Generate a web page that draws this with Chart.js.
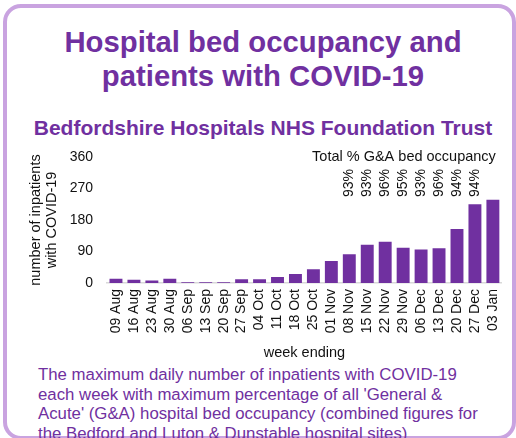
<!DOCTYPE html>
<html><head><meta charset="utf-8">
<script src="https://cdn.jsdelivr.net/npm/chart.js@4"></script>
<style>
html,body{margin:0;padding:0;width:516px;height:438px;overflow:hidden;background:#fff;font-family:'Liberation Sans',Arial,sans-serif;}
#frame{position:absolute;left:3px;top:4px;width:513px;height:436px;box-sizing:border-box;border:4px solid #c9a3e0;border-radius:18px;}
#title{position:absolute;left:10px;top:25px;width:506px;text-align:center;font-weight:bold;font-size:29.3px;line-height:34px;color:#7030a0;}
#subtitle{position:absolute;left:10px;top:116px;width:506px;text-align:center;font-weight:bold;font-size:21px;line-height:24px;color:#7030a0;white-space:nowrap;}
#caption{position:absolute;left:38px;top:365px;font-size:16.8px;line-height:19.5px;color:#7030a0;white-space:nowrap;}
canvas{position:absolute;left:0;top:0;}
</style></head>
<body>
<div id="frame"></div>
<div id="title">Hospital bed occupancy and<br>patients with COVID-19</div>
<div id="subtitle">Bedfordshire Hospitals NHS Foundation Trust</div>
<div id="caption">The maximum daily number of inpatients with COVID-19<br>each week with maximum percentage of all 'General &amp;<br>Acute' (G&amp;A) hospital bed occupancy (combined figures for<br>the Bedford and Luton &amp; Dunstable hospital sites)</div>
<canvas id="c" width="516" height="438"></canvas>
<script>
const weeks = ['09 Aug','16 Aug','23 Aug','30 Aug','06 Sep','13 Sep','20 Sep','27 Sep','04 Oct','11 Oct','18 Oct','25 Oct','01 Nov','08 Nov','15 Nov','22 Nov','29 Nov','06 Dec','13 Dec','20 Dec','27 Dec','03 Jan'];
const inpatients = [12, 9, 7, 12, 2, 2, 2, 11, 11, 17, 26, 39, 63, 82, 109, 118, 101, 96, 99, 154, 225, 238];
const occupancy = [null, null, null, null, null, null, null, null, null, null, null, null, null, 93, 93, 96, 95, 93, 96, 94, 94, null];
const yTicks = [0, 90, 180, 270, 360];
const annotationTitle = 'Total % G&A bed occupancy';
const yTitle = ['number of inpatients', 'with COVID-19'];
const xTitle = 'week ending';

const FONT = "'Liberation Sans', Arial, sans-serif";
const occPlugin = {
  id: 'occ',
  afterDatasetsDraw(chart) {
    const {ctx, chartArea} = chart;
    const x = chart.scales.x;
    ctx.save();
    ctx.font = '14.5px ' + FONT;
    ctx.fillStyle = '#111';
    ctx.textAlign = 'right';
    ctx.textBaseline = 'middle';
    ctx.fillText(annotationTitle, chartArea.right - 6, chartArea.top);
    occupancy.forEach((v, i) => {
      if (v == null) return;
      const px = x.getPixelForValue(i);
      ctx.save();
      ctx.translate(px, chartArea.top + 40);
      ctx.rotate(-Math.PI / 2);
      ctx.textAlign = 'left';
      ctx.font = '14px ' + FONT;
      ctx.fillText(v + '%', 0, 0);
      ctx.restore();
    });
    ctx.restore();
  }
};

new Chart(document.getElementById('c'), {
  type: 'bar',
  data: {
    labels: weeks,
    datasets: [{
      data: inpatients,
      backgroundColor: '#7030a0',
      borderWidth: 0,
      categoryPercentage: 0.8,
      barPercentage: 0.9
    }]
  },
  options: {
    responsive: false,
    animation: false,
    devicePixelRatio: 1,
    layout: { padding: { left: 21, top: 157, right: 14, bottom: 77 } },
    plugins: { legend: { display: false }, tooltip: { enabled: false }, title: { display: false } },
    scales: {
      x: {
        grid: { display: false, drawTicks: false },
        border: { display: true, color: '#d9d9d9', width: 1.5 },
        ticks: { autoSkip: false, minRotation: 90, maxRotation: 90, padding: 6, color: '#111', font: { family: FONT, size: 14 } },
        title: { display: true, text: xTitle, color: '#111', padding: { top: 0, bottom: 0 }, font: { family: FONT, size: 14.5, lineHeight: 1.15 } },
        afterFit(s) { s.height = 78; }
      },
      y: {
        min: 0, max: 360,
        afterBuildTicks(s) { s.ticks = yTicks.map(v => ({ value: v })); },
        grid: { display: false, drawTicks: false },
        border: { display: false },
        ticks: { padding: 14, color: '#111', font: { family: FONT, size: 14 } },
        title: { display: true, text: yTitle, color: '#111', padding: { top: 7, bottom: 0 }, font: { family: FONT, size: 14.5, lineHeight: 1.1 } },
        afterFit(s) { s.width = 86; }
      }
    }
  },
  plugins: [occPlugin]
});
</script>
</body></html>
